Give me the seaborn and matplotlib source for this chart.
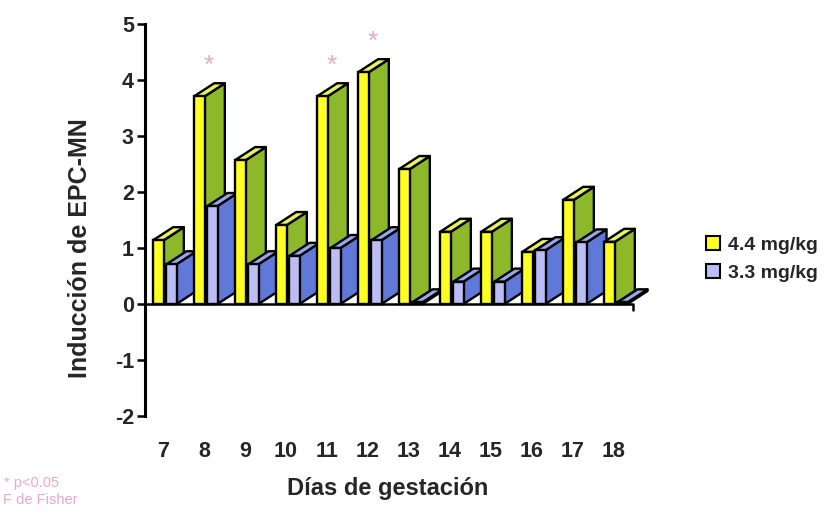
import numpy as np
import pandas as pd
import matplotlib
matplotlib.use("Agg")
import matplotlib.pyplot as plt
from matplotlib.patches import Polygon, Patch
import seaborn as sns

# Inducción de EPC-MN por día de gestación y dosis
dias = ["7", "8", "9", "10", "11", "12", "13", "14", "15", "16", "17", "18"]
dosis_44 = [1.14, 3.71, 2.57, 1.41, 3.71, 4.14, 2.41, 1.29, 1.29, 0.93, 1.86, 1.11]
dosis_33 = [0.71, 1.75, 0.71, 0.86, 1.00, 1.14, 0.03, 0.40, 0.40, 0.96, 1.10, 0.03]
series = ["4.4 mg/kg", "3.3 mg/kg"]
significativos = ["8", "11", "12"]

# colours: front, top, side
COL_44 = ("#FFFF22", "#E8F25A", "#8CB82A")
COL_33 = ("#BDBDF5", "#99A8EC", "#6079D8")
PINK = "#EBA8CB"

sns.set_theme(style="white")
plt.rcParams["font.family"] = ["Liberation Sans", "DejaVu Sans"]

W, H = 835, 519
fig = plt.figure(figsize=(W / 100, H / 100), dpi=100)
ax_l, ax_r, ax_t, ax_b = 145, 633, 24, 416
ax = fig.add_axes([ax_l / W, 1 - ax_b / H, (ax_r - ax_l) / W, (ax_b - ax_t) / H])

df44 = pd.DataFrame({"dia": dias, "valor": dosis_44})
df33 = pd.DataFrame({"dia": dias, "valor": dosis_33})

LW = 1.7
sns.barplot(data=df44, x="dia", y="valor", order=dias, color=COL_44[0],
            saturation=1, width=0.26, errorbar=None, edgecolor="black",
            linewidth=LW, ax=ax)
sns.barplot(data=df33, x="dia", y="valor", order=dias, color=COL_33[0],
            saturation=1, width=0.245, errorbar=None, edgecolor="black",
            linewidth=LW, ax=ax)

# axis limits: 41 px per day, 56 px per unit
x_left = -18 / 41
ax.set_xlim(x_left, x_left + (ax_r - ax_l) / 41)
ax.set_ylim(-2, 5)

ux = 1 / 41.0   # data units per pixel (x)
uy = 1 / 56.0   # data units per pixel (y)
DX, DY = 20 * ux, 13 * uy
shifts = [-4.5 * ux, 8.5 * ux]
colours = [COL_44, COL_33]

for k, cont in enumerate(ax.containers[:2]):
    front, top_c, side_c = colours[k]
    for j, p in enumerate(cont.patches):
        p.set_x(p.get_x() + shifts[k])
        x0, w, h = p.get_x(), p.get_width(), p.get_height()
        base = 10 + j * 10 + k * 5
        side = Polygon([(x0 + w, 0), (x0 + w, h), (x0 + w + DX, h + DY), (x0 + w + DX, DY)],
                       closed=True, facecolor=side_c, edgecolor="black", lw=LW,
                       zorder=base + 1, clip_on=False, joinstyle="round")
        top = Polygon([(x0, h), (x0 + w, h), (x0 + w + DX, h + DY), (x0 + DX, h + DY)],
                      closed=True, facecolor=top_c, edgecolor="black", lw=LW,
                      zorder=base + 2, clip_on=False, joinstyle="round")
        ax.add_patch(side)
        ax.add_patch(top)
        p.set_zorder(base + 3)
        p.set_clip_on(False)

# significance marks
for d in significativos:
    i = dias.index(d)
    ax.text(i + 5 * ux, dosis_44[i] + 0.55, "*", color=PINK, fontsize=19,
            ha="center", va="center", zorder=300)

# zero line with closing tick
ax.axhline(0, color="black", lw=1.8, zorder=2)
xr = ax.get_xlim()[1]
ax.plot([xr, xr], [0, -6 * uy], color="black", lw=1.8, clip_on=False, zorder=2)

# axes styling
for s in ["top", "right", "bottom"]:
    ax.spines[s].set_visible(False)
ax.spines["left"].set_color("black")
ax.spines["left"].set_linewidth(2.2)
ax.set_yticks(range(-2, 6))
ax.set_yticklabels([str(v) for v in range(-2, 6)], fontsize=15.5, fontweight="bold")
ax.tick_params(axis="y", direction="out", length=6, width=1.8, color="black",
               pad=2, left=True)
ax.set_xticks(range(len(dias)))
ax.set_xticklabels(dias, fontsize=15.5, fontweight="bold")
ax.tick_params(axis="x", length=0, pad=18)
ax.set_xlabel("")
ax.set_ylabel("")
ax.grid(False)

fig.text(80 / W, 1 - 248 / H, "Inducción de EPC-MN", rotation=90, fontsize=18,
         fontweight="bold", ha="center", va="center")
fig.text(388 / W, 1 - 488 / H, "Días de gestación", fontsize=17,
         fontweight="bold", ha="center", va="center")

fig.text(4 / W, 1 - 483 / H, "* p<0.05", fontsize=10.5, color=PINK, va="center")
fig.text(3 / W, 1 - 500 / H, "F de Fisher", fontsize=10.5, color=PINK, va="center")

handles = [Patch(facecolor=COL_44[0], edgecolor="black", lw=1.5),
           Patch(facecolor=COL_33[0], edgecolor="black", lw=1.5)]
fig.legend(handles=handles, labels=series, loc="center left",
           bbox_to_anchor=(702 / W, 1 - 259 / H), frameon=False,
           handlelength=0.7, handleheight=0.7, handletextpad=0.45,
           labelspacing=0.55, borderaxespad=0, borderpad=0.2,
           prop=dict(weight="bold", size=14))

fig.savefig("out.png", dpi=100)
